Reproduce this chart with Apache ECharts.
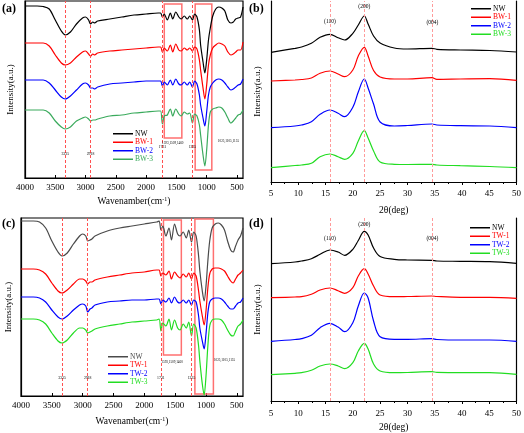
<!DOCTYPE html>
<html><head><meta charset="utf-8">
<script src="https://cdn.jsdelivr.net/npm/echarts@6/dist/echarts.min.js"></script>
<style>html,body{margin:0;padding:0;background:#fff}#c{width:524px;height:433px}</style>
</head><body><div id="c"></div>
<script>
// ---- FTIR data (wavenumber, cm-1) ----
const ftirWn = [4000,3800,3700,3600,3500,3400,3335,3250,3150,3050,3000,2950,2918,2880,2850,2800,2600,2400,2200,2000,1800,1760,1731,1700,1650,1600,1560,1510,1460,1420,1370,1320,1280,1235,1200,1160,1120,1100,1060,1030,1000,970,940,900,850,800,750,700,650,600,560,520,480,440,400];
const nwA = [172,172,171.5,169,158,147,143,146,154,160,161,158,154,156,155,157,159,161,163,164,165,165,161,164,158,165,159,166,161,159,162,159,162,158,164,161,148,133,116,105,118,138,150,162,169,171,170,167,158,155,156,159,160,161,171];
const bw1 = [135,135,135,132,123,115,113,115,121,126,127,124,122,124,123,125,127,128,129,130,131,131,126,130,127,133,126,134,128,127,130,128,130,127,131,129,118,108,90,79,93,113,123,130,133,135,134,132,126,123,124,126,128,128,136];
const bw2 = [98,98,98,95,88,81,79,82,88,94,95,93,90,90,89,91,94,95,96,97,97,97,92,96,93,98,93,99,94,93,96,93,96,91,97,94,83,73,60,52,66,83,91,95,98,99,98,95,91,88,89,91,93,94,99];
const bw3 = [68,68,68,65,57,51,49,51,57,60,61,59,57,58,58,59,62,63,65,66,67,67,54,62,63,69,62,69,64,62,66,64,65,55,64,62,53,43,23,12,28,53,66,69,70,71,70,66,60,55,57,60,63,64,68];
const nwC = [175,175,174,168,155,144,140,143,152,160,162,160,155,156,157,160,165,168,170,172,174,175,166,170,160,168,156,172,162,160,164,158,166,154,164,160,140,125,105,95,110,135,155,168,172,173,171,166,155,146,144,150,156,160,168];
const tw1 = [127,127,126,122,113,105,103,106,112,117,117,115,112,114,114,116,119,121,123,124,126,126,120,123,121,125,117,124,120,118,122,119,123,117,123,120,105,95,80,71,85,108,122,127,128,128,127,125,120,115,113,117,121,123,126];
const tw2 = [99,99,98,94,86,79,77,80,86,91,92,90,84,87,88,91,94,95,96,96,97,97,92,96,94,98,93,99,94,93,96,93,96,91,96,94,80,68,55,47,62,83,94,97,98,98,97,94,90,87,87,90,93,94,98];
const tw3 = [77,77,76,72,63,55,53,56,63,68,68,66,63,64,65,67,70,72,74,75,76,77,65,73,70,77,66,76,68,66,72,68,74,60,72,68,50,35,12,1,20,50,70,76,77,77,76,72,66,61,60,65,70,72,76];
const ftirTicks = [4000,3500,3000,2500,2000,1500,1000,500];
const ftirPeaks = [3335,2918,1731,1235];
const ftirPeakLabels = ['3335','2918','1731','1235'];
const ftirGroupLabels = ['1593,1509,1460','1025,1105,1155'];

// ---- XRD data (2θ, deg) ----
const xrdDeg = [5,9.4,10.6,12.4,14,15.8,17.3,18.5,20,21,22.1,22.8,23.8,25,27.6,30,34.5,35.4,39.7,45.1,50];
const nwB = [129.7,133.7,135,138.7,144.7,147.7,144.3,142,148.7,157,166,158,146,139,134,133,133.7,132.7,132,131.5,130];
const bw1B = [101,102,102.5,104,108.7,111,108,105.3,112,126,134.7,126,111.5,105,103,103,104.3,102.7,103,103.3,101.7];
const bw2B = [54.3,56,57,60.3,67.7,72,68.7,65.3,74.7,90,103,94,78,60,56,56.5,58,57,56.3,56,54.3];
const bw3B = [14.3,16.5,17,18.7,25.3,28,25.3,22.7,28.7,41,51.3,44,31,20,17.7,17.5,17.7,17,16.3,15.5,14.3];
const nwD = [137.3,139,140,142.3,146.7,151,149,145.7,151.7,160.5,169.7,166,153,144.5,141.7,141,140.7,140,139.7,139.3,137.7];
const tw1D = [103.3,104,104.3,106.7,111,113,110.3,107.7,113.3,125,132.3,127,115,106,104.3,104.5,105,104.5,103.7,103.7,102.7];
const tw2D = [59.7,61.5,62.3,65.7,73.3,77.7,74,69.3,78.3,95,108,103,80,64.3,61.7,61.7,62.3,61.5,61,61,59.7];
const tw3D = [26.3,27.7,28.3,30.7,35,37,35,32.3,38.3,50,57.7,52,37,30,28.3,28.5,29.3,28.7,28.3,28.3,26.7];
const xrdPeaks = [15.8,22.1,34.6];
const xrdPeakLabels = ['(110)','(200)','(004)'];

const FONT = 'Liberation Serif';
const chart = echarts.init(document.getElementById('c'), null, {renderer:'canvas'});

function mk(name, xs, ys, gi, color, extra, sm) {
  return Object.assign({
    type:'line', name, xAxisIndex:gi, yAxisIndex:gi,
    data: xs.map((x,i)=>[x, ys[i]]),
    showSymbol:false, smooth: sm || 0.3, animation:false,
    lineStyle:{width:1.2, color}, itemStyle:{color}
  }, extra||{});
}
function dashLines(peaks, color) {
  return {silent:true, symbol:['none','none'], label:{show:false},
    lineStyle:{color, type:[3,2], width:1}, data: peaks.map(p=>({xAxis:p}))};
}
function txtPoints(items) {
  return {symbol:'rect', symbolSize:1, itemStyle:{color:'rgba(0,0,0,0)'},
    label:{show:true, position:'inside', formatter:'{b}', color:'#000', fontFamily:FONT},
    data: items.map(it=>({name:it[0], coord:[it[1], it[2]], label:{fontSize:it[3]}}))};
}
function boxes(list) {
  return {silent:true, itemStyle:{color:'rgba(0,0,0,0)', borderColor:'#ff7070', borderWidth:1.5},
    data: list.map(b=>[{coord:[b[0], b[1]]},{coord:[b[2], b[3]]}])};
}

const ftirX = (gi, nameGap, lblMargin) => ({
  gridIndex:gi, type:'value', min:400, max:4000, inverse:true,
  axisLine:{show:true, lineStyle:{color:'#000', width:1.2}},
  axisTick:{show:true, inside:true, length:3, customValues:ftirTicks, lineStyle:{color:'#000'}},
  axisLabel:{customValues:ftirTicks, formatter:v=>String(v), fontSize:9, color:'#000', fontFamily:FONT, margin:lblMargin},
  splitLine:{show:false},
  name:'Wavenamber(cm{sup|-1})', nameLocation:'middle', nameGap,
  nameTextStyle:{fontSize:9.5, color:'#000', fontFamily:FONT, rich:{sup:{fontSize:6, fontFamily:FONT, padding:[0,0,5,0]}}}
});
const xrdX = (gi, nameGap, lblMargin) => ({
  gridIndex:gi, type:'value', min:5, max:50, interval:5,
  axisLine:{show:true, lineStyle:{color:'#000', width:1.2}},
  axisTick:{show:true, length:3, lineStyle:{color:'#000'}},
  minorTick:{show:true, splitNumber:2, length:2, lineStyle:{color:'#000'}},
  axisLabel:{fontSize:9, color:'#000', fontFamily:FONT, margin:lblMargin},
  splitLine:{show:false},
  name:'2θ(deg)', nameLocation:'middle', nameGap,
  nameTextStyle:{fontSize:9.5, color:'#000', fontFamily:FONT}
});
const leftY = (gi, max, nameGap) => ({
  gridIndex:gi, type:'value', min:0, max,
  axisLine:{show:true, lineStyle:{color:'#000', width:1.2}},
  axisTick:{show:false}, axisLabel:{show:false}, splitLine:{show:false},
  name:'Intensity(a.u.)', nameLocation:'middle', nameGap, nameRotate:90,
  nameTextStyle:{fontSize:9, color:'#000', fontFamily:FONT}
});
const rightY = (gi, max) => ({
  gridIndex:gi, type:'value', min:0, max, position:'right',
  axisLine:{show:true, lineStyle:{color:'#000', width:1.2}},
  axisTick:{show:false}, axisLabel:{show:false}, splitLine:{show:false}
});
const leg = (left, top, items) => ({
  orient:'vertical', left, top, padding:0, itemGap:0, icon:'rect', itemWidth:20, itemHeight:1.5,
  selectedMode:false,
  textStyle:{fontSize:7.5, lineHeight:8.5, fontFamily:FONT, padding:[0,0,0,-3]},
  data: items.map(it=>({name:it[0], itemStyle:{color:it[1]}, textStyle:{color:it[1]}}))
});

const GA = '#3aaa5c', G = '#22dd22', NWC = '#4a4a4a';

const option = {
  animation:false,
  textStyle:{fontFamily:FONT},
  title:[
    {text:'(a)', left:2, top:3, padding:0, textStyle:{fontSize:12, fontWeight:'bold', fontFamily:FONT, color:'#000'}},
    {text:'(b)', left:249, top:3, padding:0, textStyle:{fontSize:12, fontWeight:'bold', fontFamily:FONT, color:'#000'}},
    {text:'(c)', left:2, top:218, padding:0, textStyle:{fontSize:12, fontWeight:'bold', fontFamily:FONT, color:'#000'}},
    {text:'(d)', left:249, top:218, padding:0, textStyle:{fontSize:12, fontWeight:'bold', fontFamily:FONT, color:'#000'}}
  ],
  grid:[
    {left:25, top:1, width:218, height:177, show:true, borderColor:'#000', borderWidth:1.2},
    {left:271, top:1, width:248, height:181},
    {left:21, top:218, width:222, height:178, show:true, borderColor:'#000', borderWidth:1.2},
    {left:271, top:218, width:248, height:183}
  ],
  xAxis:[ftirX(0,18,5), xrdX(1,23,7), ftirX(2,20,5), xrdX(3,21,8)],
  yAxis:[leftY(0,177,10), leftY(1,181,9), leftY(2,178,8), leftY(3,183,9), rightY(1,181), rightY(3,183)],
  legend:[
    leg(113,129.5,[['NW','#000'],['BW-1','#ff0000'],['BW-2','#0000ff'],['BW-3',GA]]),
    leg(471,4.5,[['NW','#000'],['BW-1','#ff0000'],['BW-2','#0000ff'],['BW-3',G]]),
    leg(108,352.5,[['NW',NWC],['TW-1','#ff0000'],['TW-2','#0000ff'],['TW-3',G]]),
    leg(470,223.5,[['NW','#000'],['TW-1','#ff0000'],['TW-2','#0000ff'],['TW-3',G]])
  ],
  series:[
    mk('NW', ftirWn, nwA, 0, '#000', {
      markLine: dashLines(ftirPeaks,'#ff5050'),
      markArea: boxes([[1700,174,1410,40],[1190,174,915,8]]),
      markPoint: txtPoints([[ftirPeakLabels[0],3335,24,3.8],[ftirPeakLabels[1],2918,24,3.8],[ftirPeakLabels[2],1731,31,3.8],[ftirPeakLabels[3],1235,31,3.8],[ftirGroupLabels[0],1560,35,3.3],[ftirGroupLabels[1],640,37,3.3]])
    }),
    mk('BW-1', ftirWn, bw1, 0, '#ff0000'),
    mk('BW-2', ftirWn, bw2, 0, '#0000ff'),
    mk('BW-3', ftirWn, bw3, 0, GA),

    mk('NW', xrdDeg, nwB, 1, '#000', {
      markLine: dashLines(xrdPeaks,'#ff9a9a'),
      markPoint: txtPoints([[xrdPeakLabels[0],15.8,160,5.5],[xrdPeakLabels[1],22.1,175,5.5],[xrdPeakLabels[2],34.6,159,5.5]])
    }, 0.35),
    mk('BW-1', xrdDeg, bw1B, 1, '#ff0000', null, 0.35),
    mk('BW-2', xrdDeg, bw2B, 1, '#0000ff', null, 0.35),
    mk('BW-3', xrdDeg, bw3B, 1, G, null, 0.35),

    mk('NW', ftirWn, nwC, 2, NWC, {
      markLine: dashLines(ftirPeaks,'#ff5050'),
      markArea: boxes([[1690,176,1400,41],[1180,177,880,2]]),
      markPoint: txtPoints([[ftirPeakLabels[0],3335,18,3.8],[ftirPeakLabels[1],2918,18,3.8],[ftirPeakLabels[2],1731,17.5,3.8],[ftirPeakLabels[3],1235,17.5,3.8],[ftirGroupLabels[0],1550,34,3.3],[ftirGroupLabels[1],700,36,3.3]])
    }),
    mk('TW-1', ftirWn, tw1, 2, '#ff0000'),
    mk('TW-2', ftirWn, tw2, 2, '#0000ff'),
    mk('TW-3', ftirWn, tw3, 2, G),

    mk('NW', xrdDeg, nwD, 3, '#000', {
      markLine: dashLines(xrdPeaks,'#ff9a9a'),
      markPoint: txtPoints([[xrdPeakLabels[0],15.8,162,5.5],[xrdPeakLabels[1],22.1,176,5.5],[xrdPeakLabels[2],34.6,162,5.5]])
    }, 0.35),
    mk('TW-1', xrdDeg, tw1D, 3, '#ff0000', null, 0.35),
    mk('TW-2', xrdDeg, tw2D, 3, '#0000ff', null, 0.35),
    mk('TW-3', xrdDeg, tw3D, 3, G, null, 0.35)
  ]
};
chart.setOption(option);
</script>
</body></html>
